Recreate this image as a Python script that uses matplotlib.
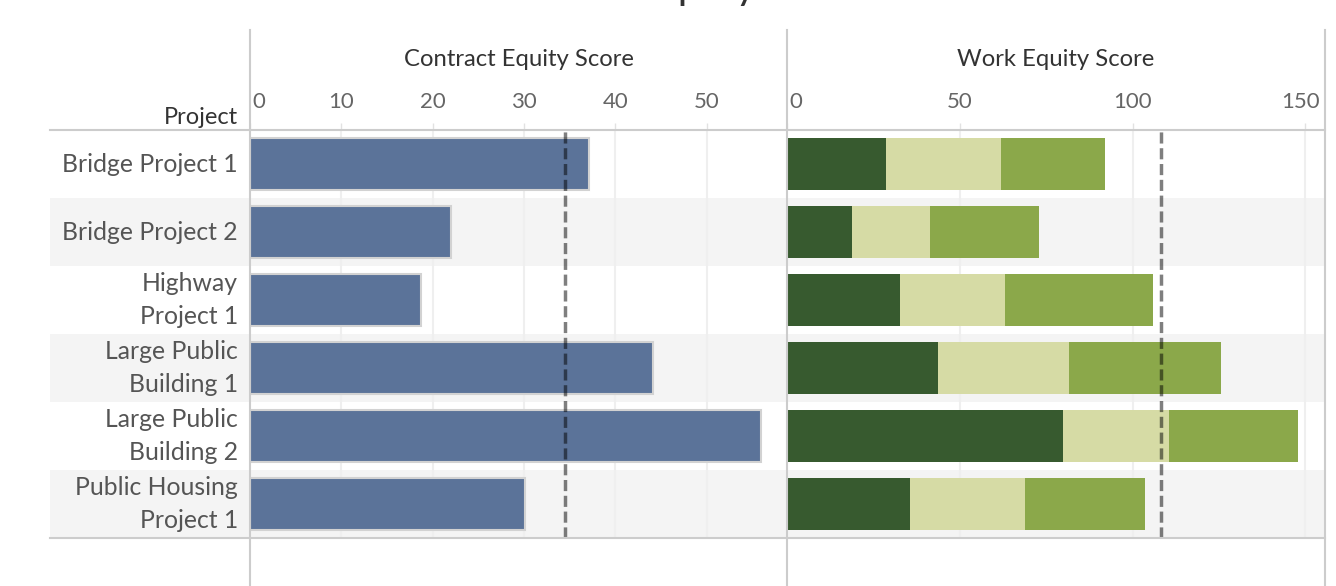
import matplotlib
matplotlib.use("Agg")
import matplotlib.pyplot as plt
from matplotlib.lines import Line2D
from matplotlib import transforms
import numpy as np

plt.rcParams['font.family'] = ['Lato', 'DejaVu Sans']

projects = ['Bridge Project 1', 'Bridge Project 2', 'Highway\nProject 1',
            'Large Public\nBuilding 1', 'Large Public\nBuilding 2',
            'Public Housing\nProject 1']
contract_score = [37.1, 22.0, 18.7, 44.1, 55.9, 30.1]
work_part1 = [28.7, 18.8, 32.8, 43.8, 79.8, 35.7]
work_part2 = [33.2, 22.7, 30.2, 37.7, 30.8, 33.1]
work_part3 = [30.2, 31.4, 43.0, 44.2, 37.2, 34.9]
contract_ref = 34.5
work_ref = 108.2
contract_ticks = [0, 10, 20, 30, 40, 50]
work_ticks = [0, 50, 100, 150]

W, H = 1336, 586
fig = plt.figure(figsize=(W / 100, H / 100), dpi=100)


def fx(px):
    return px / W


def fy(py):
    return 1 - py / H


top, bottom = 130, 538
left_lab, x_div0, x_div1, x_right = 50, 250, 787, 1325
line_col = '#cccccc'
grid_col = '#efefef'
band_col = '#f4f4f4'
n = len(projects)
y = np.arange(n)

# row bands + row labels
ax_bg = fig.add_axes([fx(left_lab), fy(bottom), fx(x_right) - fx(left_lab), (bottom - top) / H])
ax_bg.set_xlim(0, 1)
ax_bg.set_ylim(n - 0.5, -0.5)
ax_bg.axis('off')
for i in range(n):
    if i % 2 == 1:
        ax_bg.axhspan(i - 0.5, i + 0.5, color=band_col, lw=0)
lab_tr = transforms.blended_transform_factory(fig.transFigure, ax_bg.transData)
for i, name in enumerate(projects):
    ax_bg.text(fx(238), i, name, transform=lab_tr, ha='right', va='center',
               fontsize=17.8, color='#555555', linespacing=1.55)

ax1 = fig.add_axes([fx(x_div0), fy(bottom), (x_div1 - x_div0) / W, (bottom - top) / H])
ax2 = fig.add_axes([fx(x_div1), fy(bottom), (x_right - x_div1) / W, (bottom - top) / H])
for ax in (ax1, ax2):
    ax.set_facecolor('none')
    ax.set_ylim(n - 0.5, -0.5)
    ax.set_yticks([])
    for s in ax.spines.values():
        s.set_visible(False)
    ax.xaxis.tick_top()
    ax.tick_params(axis='x', which='both', length=5, width=1, color='#e2e2e2',
                   labeltop=False, labelbottom=False, bottom=False)

ax1.set_xlim(0, 58.8)
ax2.set_xlim(0, 155.7)

# grid
for t in contract_ticks[1:]:
    ax1.axvline(t, color=grid_col, lw=1.5, zorder=0)
for t in work_ticks[1:]:
    ax2.axvline(t, color=grid_col, lw=1.5, zorder=0)
ax1.set_xticks(contract_ticks)
ax2.set_xticks(work_ticks)

# bars
ax1.barh(y, contract_score, height=0.76, color='#5b7399', edgecolor='#d2d2d2', lw=1.5, zorder=2)
ax2.barh(y, work_part1, height=0.76, color='#375a2f', lw=0, zorder=2)
ax2.barh(y, work_part2, left=work_part1, height=0.76, color='#d6dba5', lw=0, zorder=2)
left3 = np.array(work_part1) + np.array(work_part2)
ax2.barh(y, work_part3, left=left3, height=0.76, color='#8ba84a', lw=0, zorder=2)

# reference lines
ax1.axvline(contract_ref, color='black', alpha=0.5, lw=2.5, dashes=(3.2, 1.35), zorder=3)
ax2.axvline(work_ref, color='black', alpha=0.5, lw=2.5, dashes=(3.2, 1.35), zorder=3)

# tick labels
tick_y = fy(108)
tick_fs = 16
for ax, ticks in ((ax1, contract_ticks), (ax2, work_ticks)):
    tr = transforms.blended_transform_factory(ax.transData, fig.transFigure)
    xmax = ax.get_xlim()[1]
    for t in ticks:
        if t == 0:
            ax.text(t, tick_y, str(t), transform=tr + transforms.ScaledTranslation(2 / 100, 0, fig.dpi_scale_trans),
                    ha='left', va='baseline', fontsize=tick_fs, color='#666666')
        elif t > xmax * 0.95:
            ax.text(xmax, tick_y, str(t), transform=tr + transforms.ScaledTranslation(-5 / 100, 0, fig.dpi_scale_trans),
                    ha='right', va='baseline', fontsize=tick_fs, color='#666666')
        else:
            ax.text(t, tick_y, str(t), transform=tr, ha='center', va='baseline',
                    fontsize=tick_fs, color='#666666')

# headers
fig.text(fx((x_div0 + x_div1) / 2), fy(66), 'Contract Equity Score', ha='center', va='baseline',
         fontsize=17.2, color='#333333')
fig.text(fx((x_div1 + x_right) / 2), fy(66), 'Work Equity Score', ha='center', va='baseline',
         fontsize=17.2, color='#333333')
fig.text(fx(238), fy(124), 'Project', ha='right', va='baseline', fontsize=17, color='#333333')

# title (cropped at the top in the reference)
fig.text(fx(640), fy(-1), 'Equity Scores', ha='left', va='baseline', fontsize=30, color='#333333')

# frame lines
for py in (top, bottom):
    fig.add_artist(Line2D([fx(left_lab), fx(x_right)], [fy(py), fy(py)], color=line_col, lw=1.5))
for px in (x_div0, x_div1, x_right):
    fig.add_artist(Line2D([fx(px), fx(px)], [fy(30), fy(H)], color=line_col, lw=1.5))

fig.savefig('out.png', dpi=100)
